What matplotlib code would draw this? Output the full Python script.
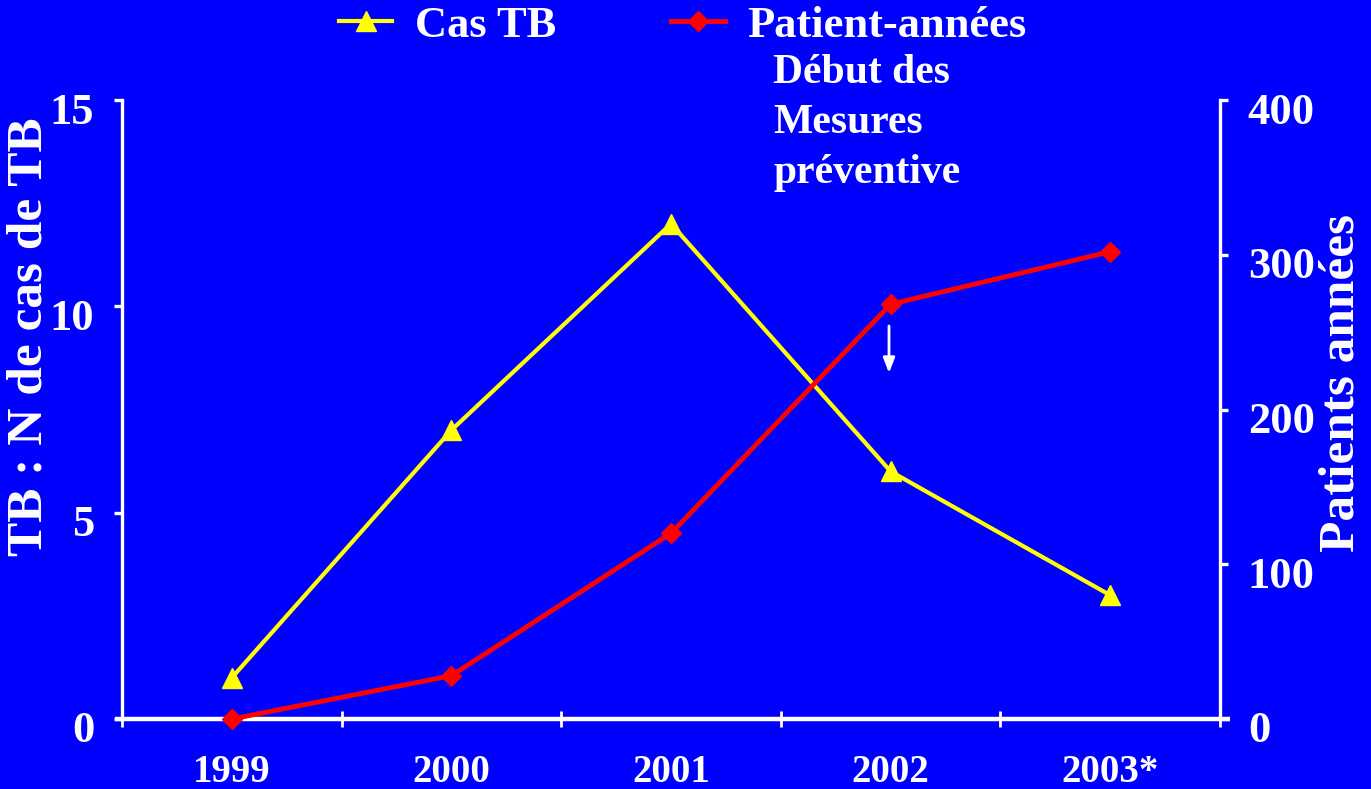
import matplotlib
matplotlib.use("Agg")
import matplotlib.pyplot as plt
import matplotlib.transforms as mtransforms
import numpy as np

years = ["1999", "2000", "2001", "2002", "2003*"]
cas_tb = [1, 7, 12, 6, 3]
patient_annees = [0, 28, 120, 268, 302]
left_ticks = [0, 5, 10, 15]
right_ticks = [0, 100, 200, 300, 400]

BG = "#0000FF"
WHITE = "white"
FONT = "Liberation Serif"

plt.rcParams["font.family"] = FONT
plt.rcParams["font.weight"] = "bold"

fig = plt.figure(figsize=(13.71, 7.89), dpi=100, facecolor=BG)
ax = fig.add_axes([122 / 1371, 1 - 719 / 789, 1098 / 1371, 619 / 789])
ax.set_facecolor(BG)
ax2 = ax.twinx()

x = np.arange(len(years))

l1, = ax.plot(x, cas_tb, color="#FFFF00", lw=3, marker="^", ms=15,
              markeredgecolor="#FFFF00", zorder=3, clip_on=False)
l2, = ax2.plot(x, patient_annees, color="#FF0000", lw=3.5, marker="D", ms=10,
               markeredgecolor="#FF0000", zorder=3, clip_on=False)

ax.set_xlim(-0.5, len(years) - 0.5)
ax.set_ylim(0, 15)
ax2.set_ylim(0, 400)

for a in (ax, ax2):
    for s in a.spines.values():
        s.set_visible(False)

ax.spines["left"].set_visible(True)
ax.spines["left"].set_color(WHITE)
ax.spines["left"].set_linewidth(2.4)
ax2.spines["right"].set_visible(True)
ax2.spines["right"].set_color(WHITE)
ax2.spines["right"].set_linewidth(2.4)

# x axis line extending slightly past both y axes
ax.plot([-0.0065, 1.0095], [0, 0], transform=ax.transAxes, color=WHITE,
        lw=3.2, clip_on=False, zorder=4, solid_capstyle="butt")

ax.set_xticks(x)
ax.set_xticklabels(years)
ax.set_xticks(np.arange(-0.5, len(years), 1.0), minor=True)
ax.tick_params(axis="x", which="major", length=0, pad=25, labelsize=28,
               labelcolor=WHITE)
ax.tick_params(axis="x", which="minor", direction="inout", length=12,
               width=2, color=WHITE)

ax.set_yticks(left_ticks)
ax.tick_params(axis="y", which="major", direction="out", length=6, width=2.4,
               color=WHITE, labelcolor=WHITE, labelsize=32, pad=14)
ax2.set_yticks(right_ticks)
ax2.tick_params(axis="y", which="major", direction="out", length=6, width=2.4,
                color=WHITE, labelcolor=WHITE, labelsize=32, pad=14)

shift = mtransforms.ScaledTranslation(0, -8 / 100, fig.dpi_scale_trans)
for lab in ax.get_yticklabels() + ax2.get_yticklabels():
    lab.set_fontweight("bold")
    lab.set_transform(lab.get_transform() + shift)
for lab in ax.get_xticklabels():
    lab.set_fontweight("bold")

# axis titles
fig.text(30 / 1371, 1 - 337 / 789, "TB : N de cas de TB", rotation=90,
         ha="center", va="center", color=WHITE, fontsize=37,
         fontweight="bold")
fig.text(1342 / 1371, 1 - 383 / 789, "Patients années", rotation=90,
         ha="center", va="center", color=WHITE, fontsize=37,
         fontweight="bold")

# annotation of the start of preventive measures
for i, line in enumerate(["Début des", "Mesures", "préventive"]):
    fig.text(773 / 1371, 1 - (73 + 50 * i) / 789, line, ha="left",
             va="center", color=WHITE, fontsize=30, fontweight="bold")
ax.annotate("", xy=(889 / 1371, 1 - 373 / 789),
            xytext=(889 / 1371, 1 - 326 / 789),
            xycoords="figure fraction", textcoords="figure fraction",
            arrowprops=dict(arrowstyle="-|>,head_length=0.9,head_width=0.35",
                            color=WHITE, lw=2, shrinkA=0, shrinkB=0))

leg = fig.legend([l1, l2], ["Cas TB", "Patient-années"], loc="center left",
                 bbox_to_anchor=(339 / 1371, 1 - 26 / 789), ncol=2,
                 frameon=False, labelcolor=WHITE,
                 handlelength=1.2, handletextpad=0.5, columnspacing=2.6,
                 borderpad=0, borderaxespad=0,
                 prop={"family": FONT, "weight": "bold", "size": 32})

fig.savefig("out.png", dpi=100, facecolor=BG)
